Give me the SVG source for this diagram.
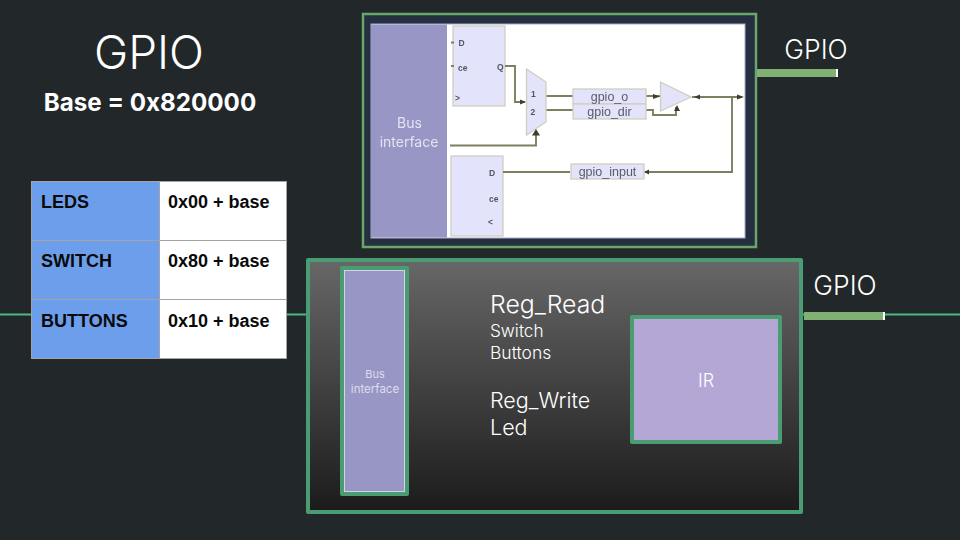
<svg xmlns="http://www.w3.org/2000/svg" width="960" height="540" viewBox="0 0 960 540">
<style>
text{font-family:Inter,Lato,"Liberation Sans",sans-serif}
.w{fill:#fff;font-weight:300}
.b{fill:#fff;font-weight:700}
.t{font-family:"Liberation Sans",Arial,sans-serif;font-weight:700;font-size:18px;fill:#0a0a0a}
.cell{stroke:#a3a3a3;stroke-width:1}
.s{fill:#e3e3fb;stroke:#cfcfbe;stroke-width:1.300}
.wire{fill:none;stroke:#7e7e60;stroke-width:1.900}
.lbl{font-family:"Liberation Sans",Arial,sans-serif;fill:#5a5a68;font-size:12.500px}
.pin{font-family:"Liberation Sans",Arial,sans-serif;fill:#55555f;font-size:8.500px;font-weight:700}
.ah{fill:#3c3c30}
.box{stroke:#4a9d72;stroke-width:4;stroke-linejoin:round}
</style>
<defs>
<linearGradient id="g" x1="0" y1="0" x2="0" y2="1"><stop offset="0" stop-color="#676767"/><stop offset="1" stop-color="#1b1b1b"/></linearGradient>
<filter id="soft" x="-2%" y="-2%" width="104%" height="104%"><feGaussianBlur stdDeviation="0.45"/></filter>
</defs>
<rect width="960" height="540" fill="#222829"/>
<g id="connectors">
<path d="M0 314.500H32M286 314.500H308M802 314.500H806M885 314.500H960" stroke="#4fb585" stroke-width="2" fill="none"/>
</g>
<g id="title">
<text class="w" x="149" y="69" font-size="46" text-anchor="middle">GPIO</text>
<text class="b" x="150" y="111" font-size="24.200" text-anchor="middle">Base = 0x820000</text>
</g>
<g id="register-table">
<rect class="cell" x="31.500" y="181.500" width="128" height="59" fill="#6d9eeb"/>
<rect class="cell" x="31.500" y="240.500" width="128" height="59" fill="#6d9eeb"/>
<rect class="cell" x="31.500" y="299.500" width="128" height="59" fill="#6d9eeb"/>
<rect class="cell" x="159.500" y="181.500" width="127" height="59" fill="#fff"/>
<rect class="cell" x="159.500" y="240.500" width="127" height="59" fill="#fff"/>
<rect class="cell" x="159.500" y="299.500" width="127" height="59" fill="#fff"/>
<text class="t" x="41" y="208">LEDS</text>
<text class="t" x="168" y="208">0x00 + base</text>
<text class="t" x="41" y="267">SWITCH</text>
<text class="t" x="168" y="267">0x80 + base</text>
<text class="t" x="41" y="326.500">BUTTONS</text>
<text class="t" x="168" y="326.500">0x10 + base</text>
</g>
<g id="schematic">
<rect x="363" y="14" width="393" height="233" fill="#24303f" stroke="#6aa56b" stroke-width="2.500"/>
<g filter="url(#soft)">
<rect x="371" y="24" width="374" height="214" fill="#fff" stroke="#a9a9cf" stroke-width="1"/>
<rect x="371" y="24.500" width="76" height="213" fill="#9896c4"/>
<text x="409.500" y="128" font-size="14" fill="#e3e3f3" text-anchor="middle">Bus</text>
<text x="409" y="147" font-size="14" fill="#e3e3f3" text-anchor="middle">interface</text>
<rect class="s" x="453" y="26" width="52" height="80"/>
<rect class="s" x="451" y="156" width="52" height="80"/>
<path class="wire" d="M451 42.500H454M451 66H454M505 66H515V102H525M545 96H573M545 110H573M450 145.500H536V135M503 172H570M617 96H660M617 110H653V115H676V107M692 97H742M732 97V172H645"/>
<path class="s" d="M526.500 69L546 82V122L526.500 135Z"/>
<rect class="s" x="573" y="89" width="73" height="15"/>
<rect class="s" x="573" y="104" width="73" height="15"/>
<rect class="s" x="571" y="164" width="73" height="15"/>
<path class="s" d="M660.500 82L691 97L660.500 111Z"/>
<path class="ah" d="M526 102L520 99.500V104.500ZM536 129L532 135.500H540ZM660 96.500L653 94V99ZM677 105L674 111H680ZM694 97L700 94.500V99.500ZM744 97L737 94.500V99.500ZM644 172L649 169.500V174.500Z"/>
<text class="lbl" x="609.500" y="101" text-anchor="middle">gpio_o</text>
<text class="lbl" x="609.500" y="115.500" text-anchor="middle">gpio_dir</text>
<text class="lbl" x="607.500" y="176" text-anchor="middle">gpio_input</text>
<text class="pin" x="458.500" y="46">D</text>
<text class="pin" x="458" y="71">ce</text>
<text class="pin" x="497" y="70">Q</text>
<text class="pin" x="455" y="101">&gt;</text>
<text class="pin" x="489" y="176">D</text>
<text class="pin" x="489" y="202">ce</text>
<text class="pin" x="488" y="225">&lt;</text>
<text class="pin" x="531" y="97" font-size="9">1</text>
<text class="pin" x="530.500" y="115" font-size="9">2</text>
</g>
</g>
<g id="gpio-top">
<rect x="757" y="69" width="81" height="8" fill="#80b172"/>
<rect x="836" y="69" width="2" height="8" fill="#fff"/>
<text class="w" x="816" y="59" font-size="26.500" text-anchor="middle">GPIO</text>
</g>
<g id="gpio-block">
<rect class="box" x="308" y="260" width="493" height="252" fill="url(#g)"/>
<text class="w" x="490" y="313" font-size="24.800">Reg_Read</text>
<text class="w" x="490" y="337" font-size="17.200">Switch</text>
<text class="w" x="490" y="359" font-size="17.500">Buttons</text>
<text class="w" x="490" y="408" font-size="21.500">Reg_Write</text>
<text class="w" x="490" y="435" font-size="21.500">Led</text>
</g>
<g id="bus-interface">
<rect class="box" x="342" y="268" width="65" height="226" fill="#9896c4"/>
<rect x="344.500" y="270.500" width="60" height="221" fill="none" stroke="#d4d4e4" stroke-width="1"/>
<text x="375" y="378" font-size="11" fill="#dcdcee" text-anchor="middle">Bus</text>
<text x="375" y="393" font-size="11.500" fill="#dcdcee" text-anchor="middle">interface</text>
</g>
<g id="ir">
<rect class="box" x="632" y="317" width="148" height="125" fill="#b4a7d6"/>
<text class="w" x="706" y="387" font-size="18" text-anchor="middle">IR</text>
</g>
<g id="gpio-bottom">
<rect x="804" y="312" width="81" height="8" fill="#80b172"/>
<rect x="883" y="312" width="2" height="8" fill="#fff"/>
<text class="w" x="845" y="295" font-size="26.500" text-anchor="middle">GPIO</text>
</g>
</svg>
